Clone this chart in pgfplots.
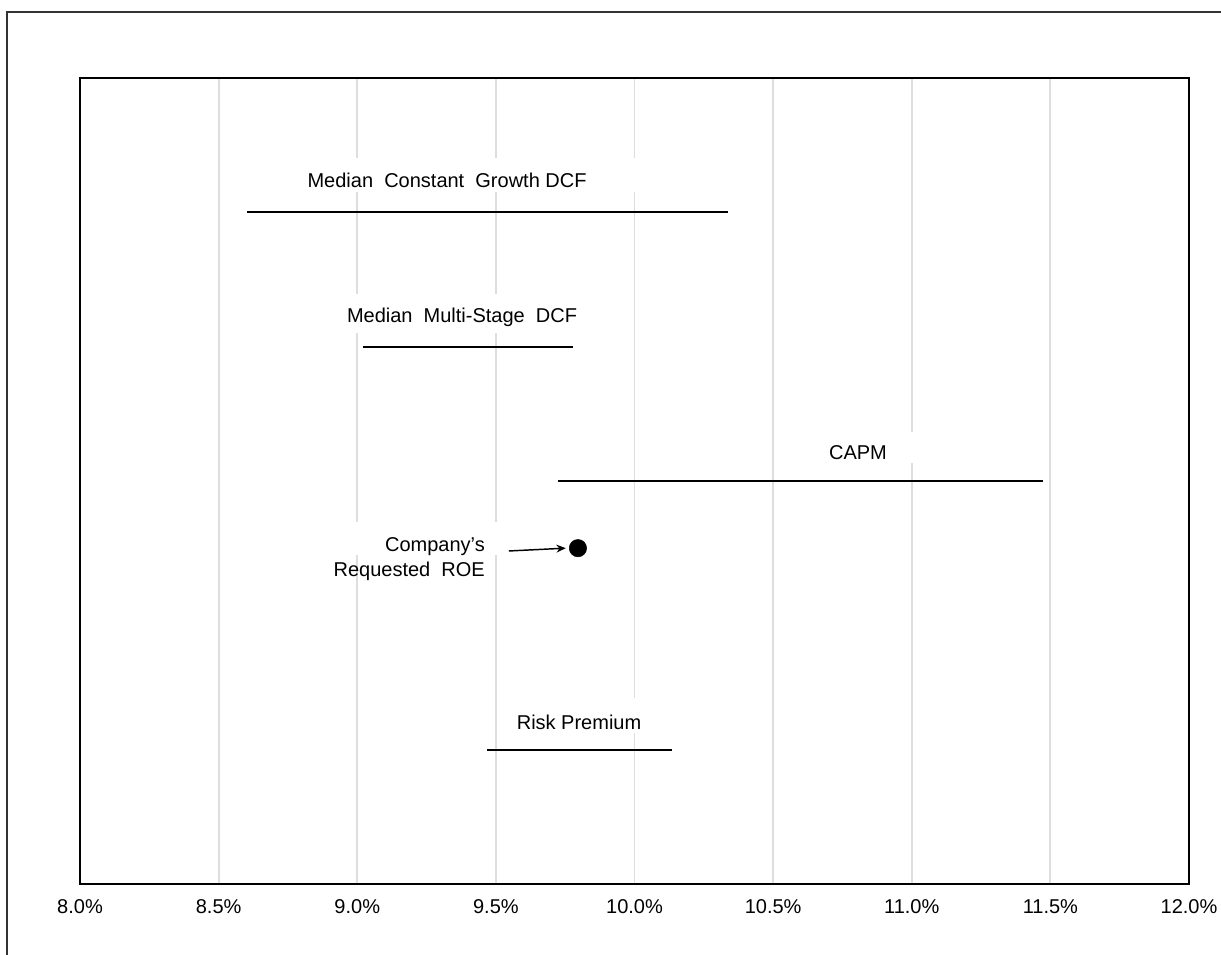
\documentclass[border=0pt]{standalone}
\usepackage{fontspec}
\setmainfont{Liberation Sans}
\usepackage{pgfplots}
\pgfplotsset{compat=1.18}
\usetikzlibrary{arrows.meta}

\begin{document}
\fontsize{15}{18.75}\selectfont
\begin{tikzpicture}
\begin{axis}[
    at={(0,0)}, anchor=south west,
    scale only axis,
    width=831.75pt, height=604.5pt,
    xmin=8, xmax=12, ymin=0, ymax=12,
    xtick={8,8.5,...,12},
    ytick=\empty,
    major tick length=0pt,
    xmajorgrids,
    grid style={line width=1.4pt, color=black!13},
    axis line style={line width=1.6pt, black},
    /pgf/number format/assume math mode=true,
    xticklabel={\pgfmathprintnumber[fixed,fixed zerofill,precision=1]{\tick}\%},
    xticklabel style={anchor=center, yshift=-17pt, font=\fontsize{15}{18}\selectfont},
    clip=false,
]
% white boxes behind the labels, cutting the grid lines
\fill[white] (axis cs:8.757,10.30) rectangle (axis cs:10.038,10.81);
\fill[white] (axis cs:8.956,8.20) rectangle (axis cs:9.821,8.78);
\fill[white] (axis cs:10.597,6.27) rectangle (axis cs:11.030,6.73);
\fill[white] (axis cs:8.974,4.90) rectangle (axis cs:9.533,5.39);
\fill[white] (axis cs:9.533,2.25) rectangle (axis cs:10.056,2.77);

\addplot[black, line width=1.5pt] coordinates {(8.602,10) (10.337,10)};
\addplot[black, line width=1.5pt] coordinates {(9.021,8) (9.778,8)};
\addplot[black, line width=1.5pt] coordinates {(9.724,6) (11.473,6)};
\addplot[black, line width=1.5pt] coordinates {(9.468,2) (10.135,2)};
\addplot[only marks, mark=*, mark size=6.5pt, black] coordinates {(9.796,5)};

\draw[black, line width=1.1pt, -{Stealth[length=7pt,width=6pt]}]
    (axis cs:9.547,4.958) -- (axis cs:9.752,5.0);

\node at (axis cs:9.324,10.47) {Median\ \ Constant\ \ Growth DCF};
\node at (axis cs:9.378,8.44) {Median\ \ Multi-Stage\ \ DCF};
\node at (axis cs:10.806,6.42) {CAPM};
\node at (axis cs:9.80,2.40) {Risk Premium};
\node[anchor=east, align=right, inner xsep=0pt] at (axis cs:9.461,4.83)
    {Company's\\Requested\ \ ROE};
\end{axis}
% outer frame (right and bottom edges fall outside the picture)
\draw[line width=1.5pt, black!80] (-54.75pt,-80pt) -- (-54.75pt,654pt) -- (900pt,654pt);
\pgfresetboundingbox
\useasboundingbox (-60pt,-53.25pt) rectangle (855.75pt,663pt);
\end{tikzpicture}
\end{document}
